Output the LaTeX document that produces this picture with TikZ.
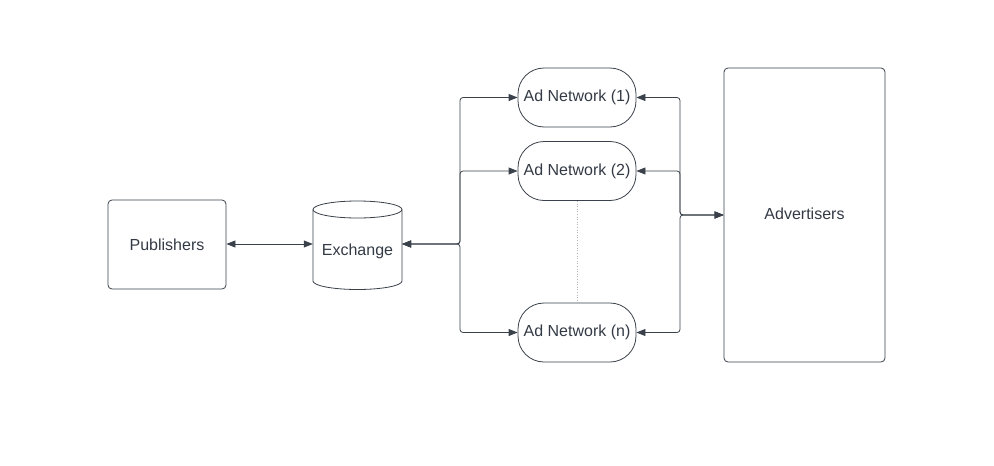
\documentclass[tikz,border=0pt]{standalone}
\usepackage{fontspec}
\setmainfont{Liberation Sans}
\usetikzlibrary{arrows.meta}
\definecolor{linegrey}{HTML}{3A414A}
\definecolor{textgrey}{HTML}{333A45}
\tikzset{
  box/.style={draw=linegrey,line width=0.8pt,rounded corners=4pt,text=textgrey},
  network/.style={draw=linegrey,line width=0.8pt,rounded corners=26pt,minimum width=118pt,minimum height=59pt,text=textgrey},
  link/.style={draw=linegrey,line width=0.8pt,rounded corners=3pt,{Triangle[length=9pt,width=7pt]}-{Triangle[length=9pt,width=7pt]}}
}
\begin{document}
\begin{tikzpicture}[x=1pt,y=-1pt,font=\fontsize{16}{19}\selectfont]
            \useasboundingbox (0,0) rectangle (994,466);
            \node[box,minimum width=118pt,minimum height=89pt] (pub) at (167,244.5) {Publishers};
            % exchange drum
            \draw[linegrey,line width=0.8pt] (313,209.5) -- (313,281) arc[start angle=180,end angle=360,x radius=44.5,y radius=-8.5] -- (402,209.5);
            \draw[linegrey,line width=0.8pt] (357.5,209.5) ellipse[x radius=44.5,y radius=8.5];
            \node[text=textgrey,minimum width=89pt,minimum height=76pt] (ex) at (357.5,251) {Exchange};
            \node[network] (an1) at (577,97.5) {Ad Network (1)};
            \node[network] (an2) at (577,171) {Ad Network (2)};
            \node[network] (ann) at (577,332.5) {Ad Network (n)};
            \node[box,minimum width=161pt,minimum height=294pt] (adv) at (804.5,215) {};
            \node[text=textgrey] (advlabel) at (804.5,214) {Advertisers};
            \coordinate (lbus) at (460,244);
            \coordinate (rbus) at (680,215);
            \draw[link] (pub.east |- 0,244) -- (ex.west |- 0,244);
            \draw[link] (ex.east |- lbus) -- (lbus) |- (an1.west);
            \draw[link] (ex.east |- lbus) -- (lbus) |- (an2.west);
            \draw[link] (ex.east |- lbus) -- (lbus) |- (ann.west);
            \draw[link] (an1.east) -| (rbus) -- (adv.west);
            \draw[link] (an2.east) -| (rbus) -- (adv.west);
            \draw[link] (ann.east) -| (rbus) -- (adv.west);
            \draw[linegrey!40,dotted,line width=0.6pt] (an2.south) -- (ann.north);
\end{tikzpicture}
\end{document}
